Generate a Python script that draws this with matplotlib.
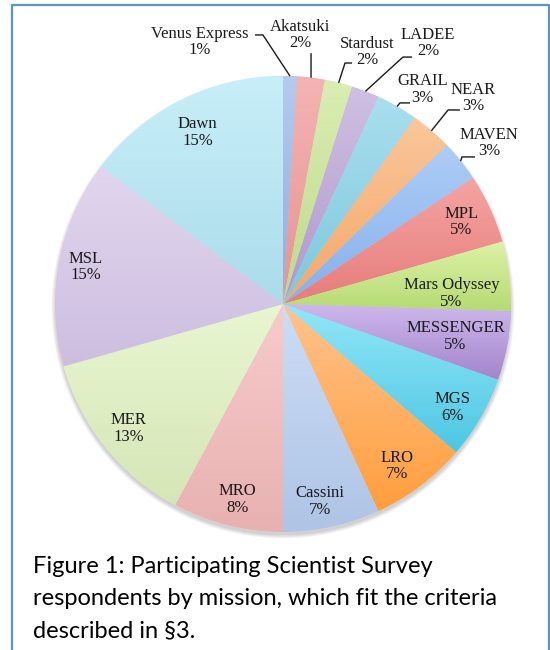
import numpy as np
import matplotlib.pyplot as plt
from matplotlib.colors import to_rgb
from matplotlib.patches import Circle

missions = ['Venus Express', 'Akatsuki', 'Stardust', 'LADEE', 'GRAIL', 'NEAR', 'MAVEN',
            'MPL', 'Mars Odyssey', 'MESSENGER', 'MGS', 'LRO', 'Cassini', 'MRO',
            'MER', 'MSL', 'Dawn']
respondents = [1, 2, 2, 2, 3, 3, 3, 5, 5, 5, 6, 7, 7, 8, 13, 15, 15]

# gradient colours of every slice (top of slice -> bottom of slice)
top_colors = ['#B3CBEF', '#F4B4B3', '#DBEDB3', '#D0C0E3', '#AADFEE', '#FAC79A', '#AECDF5',
              '#F5A4A3', '#DDF2A6', '#CDB8EC', '#92E8F8', '#FFC38E', '#CCDDF5', '#F8CBCB',
              '#E9F6D1', '#E1D6EE', '#C8EFF9']
bottom_colors = ['#8FADDC', '#E69392', '#BDDA8A', '#AE98CC', '#7CC7DE', '#F4A76A', '#86B0EB',
                 '#E67D7B', '#B6DA74', '#A384CC', '#4EC6E3', '#FF9E3C', '#AFC4E6', '#E8B1B1',
                 '#D5E6B6', '#CDBEE0', '#ABDBEA']

caption_lines = ['Figure 1: Participating Scientist Survey',
                 'respondents by mission, which fit the criteria',
                 'described in §3.']

# layout in pixels (figure is 550 x 650 at dpi 100)
W, H = 550, 650
CX, CY, R = 283, 346, 228

# labels outside the pie: text centre, elbow and end of the leader line, in units of R
outside = {
    'Venus Express': ((-0.364, 1.149), (-0.088, 1.18), (-0.123, 1.18)),
    'Akatsuki': ((0.075, 1.18), (0.123, 1.10), (0.123, 1.10)),
    'Stardust': ((0.368, 1.105), (0.272, 1.057), (0.303, 1.057)),
    'LADEE': ((0.636, 1.145), (0.526, 1.083), (0.566, 1.083)),
    'GRAIL': ((0.612, 0.94), (0.513, 0.882), (0.557, 0.882)),
    'NEAR': ((0.833, 0.904), (0.724, 0.851), (0.776, 0.851)),
    'MAVEN': ((0.904, 0.706), (0.785, 0.645), (0.842, 0.645)),
}
# labels inside the pie: distance from centre (units of R) and nudge from mid angle (deg)
inside = {'MPL': (0.86, 0), 'Mars Odyssey': (0.74, -3.4), 'MESSENGER': (0.77, 0),
          'MGS': (0.87, -1.5), 'LRO': (0.87, -1.8), 'Cassini': (0.88, -1.8),
          'MRO': (0.88, 0.9), 'MER': (0.87, 0), 'MSL': (0.88, 0), 'Dawn': (0.84, 0)}

fig = plt.figure(figsize=(W / 100, H / 100), dpi=100)
ax = fig.add_axes([0, 0, 1, 1])

# soft shadow under the pie
for i in range(6):
    ax.add_patch(Circle((CX, CY - 3), R + 0.7 * i, color='k', alpha=0.03, lw=0, zorder=0))

mid_colors = [tuple((np.array(to_rgb(t)) + np.array(to_rgb(b))) / 2)
              for t, b in zip(top_colors, bottom_colors)]
wedges, _ = ax.pie(respondents, startangle=90, counterclock=False, radius=R,
                   center=(CX, CY), colors=mid_colors,
                   wedgeprops=dict(linewidth=0.3, edgecolor=(1, 1, 1, 0.4)))

ramp = np.linspace(0, 1, 256)[:, None, None]
for w, tc, bc in zip(wedges, top_colors, bottom_colors):
    ext = w.get_path().get_extents()
    img = (1 - ramp) * np.array(to_rgb(tc)) + ramp * np.array(to_rgb(bc))
    im = ax.imshow(img, extent=(ext.x0, ext.x1, ext.y0, ext.y1), origin='upper',
                   interpolation='bilinear', aspect='auto', zorder=2)
    im.set_clip_path(w)

total = sum(respondents)
font = dict(family='Liberation Serif', size=12, color='#1a1a1a', linespacing=1.05)
for w, name, n in zip(wedges, missions, respondents):
    label = f'{name}\n{round(100 * n / total)}%'
    mid = np.deg2rad((w.theta1 + w.theta2) / 2)
    if name in outside:
        (tx, ty), (ex, ey), (sx, sy) = outside[name]
        ax.text(CX + tx * R, CY + ty * R, label, ha='center', va='center',
                multialignment='center', zorder=5, **font)
        xs = [CX + R * np.cos(mid), CX + ex * R, CX + sx * R]
        ys = [CY + R * np.sin(mid), CY + ey * R, CY + sy * R]
        ax.plot(xs, ys, color='#1a1a1a', lw=1, zorder=5, solid_capstyle='butt')
    else:
        frac, nudge = inside[name]
        ang = mid + np.deg2rad(nudge)
        ax.text(CX + frac * R * np.cos(ang), CY + frac * R * np.sin(ang), label,
                ha='center', va='center', multialignment='center', zorder=5, **font)

ax.set_xlim(0, W)
ax.set_ylim(0, H)
ax.set_aspect('equal')
ax.axis('off')

# frame around chart and caption
frame = '#5B93CC'
fig.add_artist(plt.Line2D([12 / W, 12 / W, 549 / W, 549 / W],
                          [0, 1 - 5 / H, 1 - 5 / H, 0], color=frame, lw=1.6))

for i, line in enumerate(caption_lines):
    fig.text(33 / W, 1 - (573 + 32 * i) / H, line, family='Lato', size=17,
             color='black', va='baseline', ha='left')

fig.savefig('out.png', dpi=100)
